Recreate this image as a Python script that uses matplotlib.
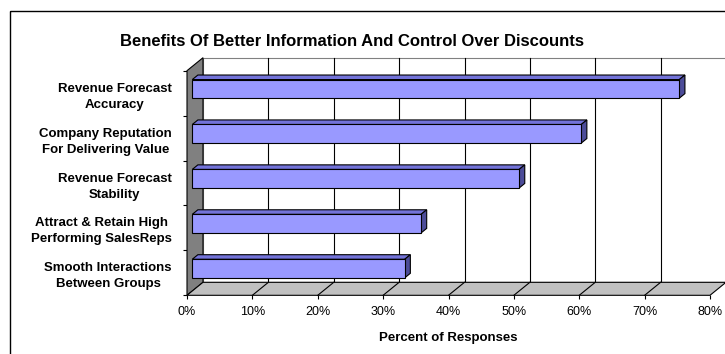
import matplotlib
matplotlib.use("Agg")
import matplotlib.pyplot as plt
from matplotlib.patches import Polygon, Rectangle

plt.rcParams["font.family"] = ["Liberation Sans", "DejaVu Sans"]

categories = [
    "Revenue Forecast\nAccuracy",
    "Company Reputation\nFor Delivering Value",
    "Revenue Forecast\nStability",
    "Attract & Retain High\nPerforming SalesReps",
    "Smooth Interactions\nBetween Groups",
]
values = [74.5, 59.5, 50.0, 35.0, 32.5]
x_ticks = [0, 10, 20, 30, 40, 50, 60, 70, 80]
x_tick_labels = [f"{t}%" for t in x_ticks]
title = "Benefits Of Better Information And Control Over Discounts"
x_label = "Percent of Responses"

W, H = 725, 354
fig = plt.figure(figsize=(W / 100, H / 100), dpi=100)

# chart area frame (pixel coordinates)
bg = fig.add_axes([0, 0, 1, 1])
bg.set_xlim(0, W)
bg.set_ylim(H, 0)
bg.axis("off")
bg.add_patch(Rectangle((10.5, 11), 740, 400, fill=False, ec="black", lw=1.0))
bg.text(352.5, 41, title, ha="center", va="center", fontsize=12, fontweight="bold")

# front plane of the 3-D box
px_left, px_right, px_top, px_bottom = 187, 710, 70.7, 295.3
ax = fig.add_axes([px_left / W, 1 - px_bottom / H,
                   (px_right - px_left) / W, (px_bottom - px_top) / H])
xmax = x_ticks[-1]
n = len(categories)
ax.set_xlim(0, xmax)
ax.set_ylim(n, 0)
for s in ax.spines.values():
    s.set_visible(False)
ax.patch.set_visible(False)

# depth offset of the box, in data units
DX = 16 / ((px_right - px_left) / xmax)
DY = 13 / ((px_bottom - px_top) / n)

# back wall + gridlines
ax.add_patch(Rectangle((DX, -DY), xmax, n, fc="white", ec="#808080", lw=0.8,
                       clip_on=False, zorder=1))
for t in x_ticks[1:]:
    ax.plot([t + DX, t + DX], [-DY, n - DY], color="black", lw=0.8,
            clip_on=False, zorder=2)

# side wall
ax.add_patch(Polygon([(0, 0), (DX, -DY), (DX, n - DY), (0, n)], closed=True,
                     fc="#808080", ec="black", lw=0.8, clip_on=False, zorder=3))
# floor
ax.add_patch(Polygon([(0, n), (DX, n - DY), (xmax + DX, n - DY), (xmax, n)],
                     closed=True, fc="#c0c0c0", ec="black", lw=0.8,
                     clip_on=False, zorder=3))
for t in x_ticks[1:-1]:
    ax.plot([t, t + DX], [n, n - DY], color="black", lw=0.8,
            clip_on=False, zorder=4)

# 3-D bars
f0, f1 = 0.33, 0.68
hh = 0.207
ddx, ddy = (f1 - f0) * DX, (f1 - f0) * DY
for i, v in enumerate(values):
    c = i + 0.5
    x0 = f0 * DX
    x1 = v + f0 * DX
    yt = c - hh - f0 * DY
    yb = c + hh - f0 * DY
    kw = dict(closed=True, ec="black", lw=0.8, clip_on=False, zorder=5)
    ax.add_patch(Polygon([(x0, yt), (x1, yt), (x1 + ddx, yt - ddy),
                          (x0 + ddx, yt - ddy)], fc="#7373d9", **kw))
    ax.add_patch(Polygon([(x1, yt), (x1, yb), (x1 + ddx, yb - ddy),
                          (x1 + ddx, yt - ddy)], fc="#4c4c99", **kw))
    ax.add_patch(Polygon([(x0, yt), (x1, yt), (x1, yb), (x0, yb)],
                         fc="#9999ff", **kw))

# axes ticks and labels
ax.set_xticks(x_ticks)
ax.set_xticklabels(x_tick_labels, fontsize=9)
ax.tick_params(axis="x", direction="out", length=3, width=0.8, pad=5)
ax.set_yticks([i + 0.5 for i in range(n)])
ax.set_yticklabels(categories, fontsize=9.5, fontweight="bold",
                   multialignment="center", linespacing=1.45)
ax.set_yticks(range(n + 1), minor=True)
ax.tick_params(axis="y", which="major", length=0, pad=11)
ax.tick_params(axis="y", which="minor", direction="out", length=3, width=0.8)
ax.set_xlabel(x_label, fontsize=9.5, fontweight="bold", labelpad=10)

fig.savefig("out.png", dpi=100)
